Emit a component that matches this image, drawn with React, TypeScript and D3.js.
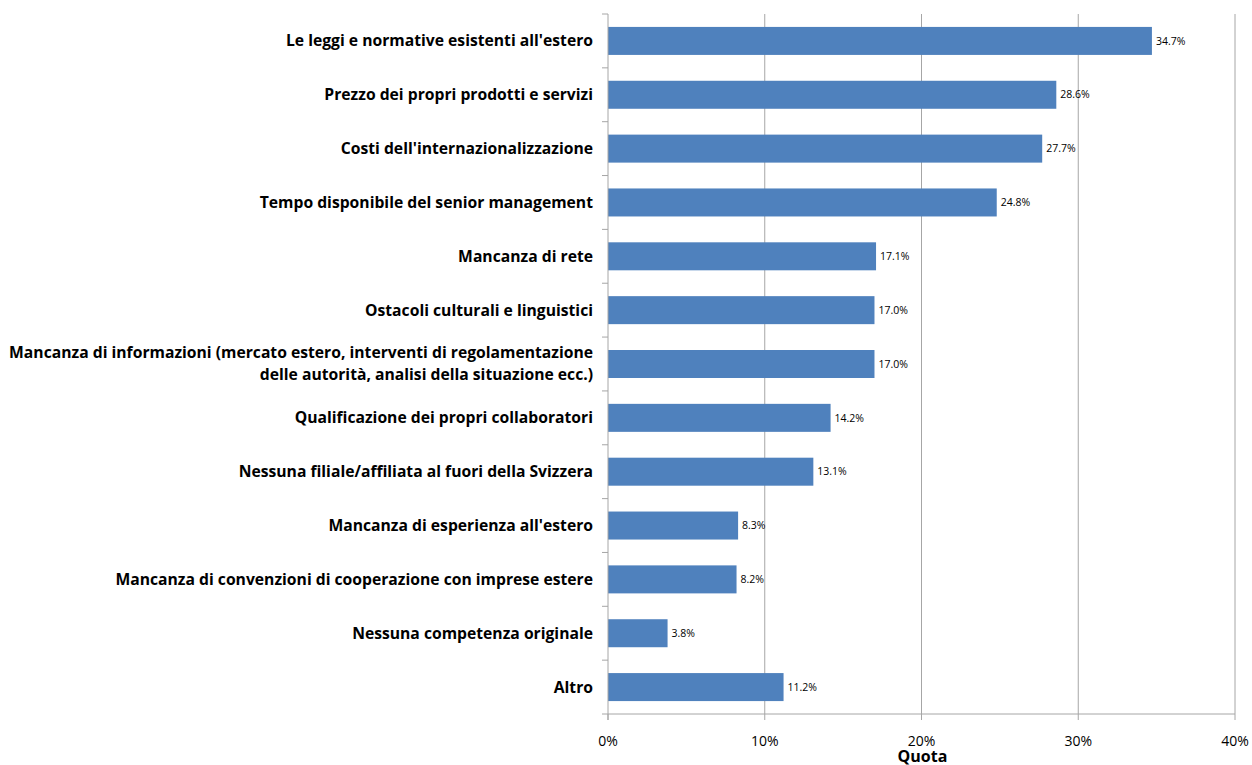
import React from "react";
import * as d3 from "d3";

const categories: string[] = [
  "Le leggi e normative esistenti all'estero",
  "Prezzo dei propri prodotti e servizi",
  "Costi dell'internazionalizzazione",
  "Tempo disponibile del senior management",
  "Mancanza di rete",
  "Ostacoli culturali e linguistici",
  "Mancanza di informazioni (mercato estero, interventi di regolamentazione\ndelle autorità, analisi della situazione ecc.)",
  "Qualificazione dei propri collaboratori",
  "Nessuna filiale/affiliata al fuori della Svizzera",
  "Mancanza di esperienza all'estero",
  "Mancanza di convenzioni di cooperazione con imprese estere",
  "Nessuna competenza originale",
  "Altro",
];

const values: number[] = [34.7, 28.6, 27.7, 24.8, 17.1, 17.0, 17.0, 14.2, 13.1, 8.3, 8.2, 3.8, 11.2];

const xTicks: number[] = [0, 10, 20, 30, 40];

const axisTitle = "Quota";

const W = 1252;
const H = 765;
const margin = { left: 608, right: 17, top: 14, bottom: 50 };
const FONT = "'Open Sans', Lato, sans-serif";

export default function App() {
  const x = d3.scaleLinear().domain([0, 40]).range([margin.left, W - margin.right]);
  const y = d3
    .scaleBand<number>()
    .domain(d3.range(categories.length))
    .range([margin.top, H - margin.bottom - 1])
    .paddingInner(0.48)
    .paddingOuter(0.24);
  const step = y.step();
  const y0 = margin.top;
  const yBottom = H - margin.bottom - 1;

  return (
    <svg
      width={W}
      height={H}
      style={{ position: "absolute", left: 0, top: 0, background: "#fff" }}
      fontFamily={FONT}
    >
      {/* vertical gridlines */}
      {xTicks.slice(1).map((t) => (
        <line key={t} x1={x(t)} x2={x(t)} y1={y0} y2={yBottom} stroke="#a6a6a6" strokeWidth={1} />
      ))}
      {/* bars */}
      {values.map((v, i) => (
        <rect key={i} x={x(0)} y={y(i)} width={x(v) - x(0)} height={y.bandwidth()} fill="#4f81bd" />
      ))}
      {/* value labels */}
      {values.map((v, i) => (
        <text
          key={i}
          x={x(v) + 4}
          y={(y(i) as number) + y.bandwidth() / 2}
          dy="0.35em"
          fontSize={10.5}
          fill="#000"
        >
          {v.toFixed(1)}%
        </text>
      ))}
      {/* left axis */}
      <line x1={x(0)} x2={x(0)} y1={y0} y2={yBottom + 6} stroke="#a6a6a6" />
      {d3.range(categories.length).map((i) => (
        <line key={i} x1={x(0) - 6} x2={x(0)} y1={y0 + i * step} y2={y0 + i * step} stroke="#a6a6a6" />
      ))}
      {/* bottom axis */}
      <line x1={x(0) - 6} x2={x(40)} y1={yBottom} y2={yBottom} stroke="#a6a6a6" />
      {xTicks.map((t) => (
        <g key={t}>
          <line x1={x(t)} x2={x(t)} y1={yBottom} y2={yBottom + 6} stroke="#a6a6a6" />
          <text x={x(t)} y={yBottom + 32} textAnchor="middle" fontSize={14} fill="#000">
            {t}%
          </text>
        </g>
      ))}
      {/* category labels */}
      {categories.map((c, i) => {
        const lines = c.split("\n");
        const cy = (y(i) as number) + y.bandwidth() / 2;
        const lh = 22;
        return (
          <text key={i} textAnchor="end" fontSize={15.7} fontWeight="bold" fill="#000">
            {lines.map((l, j) => (
              <tspan key={j} x={x(0) - 15} y={cy + (j - (lines.length - 1) / 2) * lh} dy="0.35em">
                {l}
              </tspan>
            ))}
          </text>
        );
      })}
      <text x={x(20) + 1} y={H - 3} textAnchor="middle" fontSize={16} fontWeight="bold" fill="#000">
        {axisTitle}
      </text>
    </svg>
  );
}
